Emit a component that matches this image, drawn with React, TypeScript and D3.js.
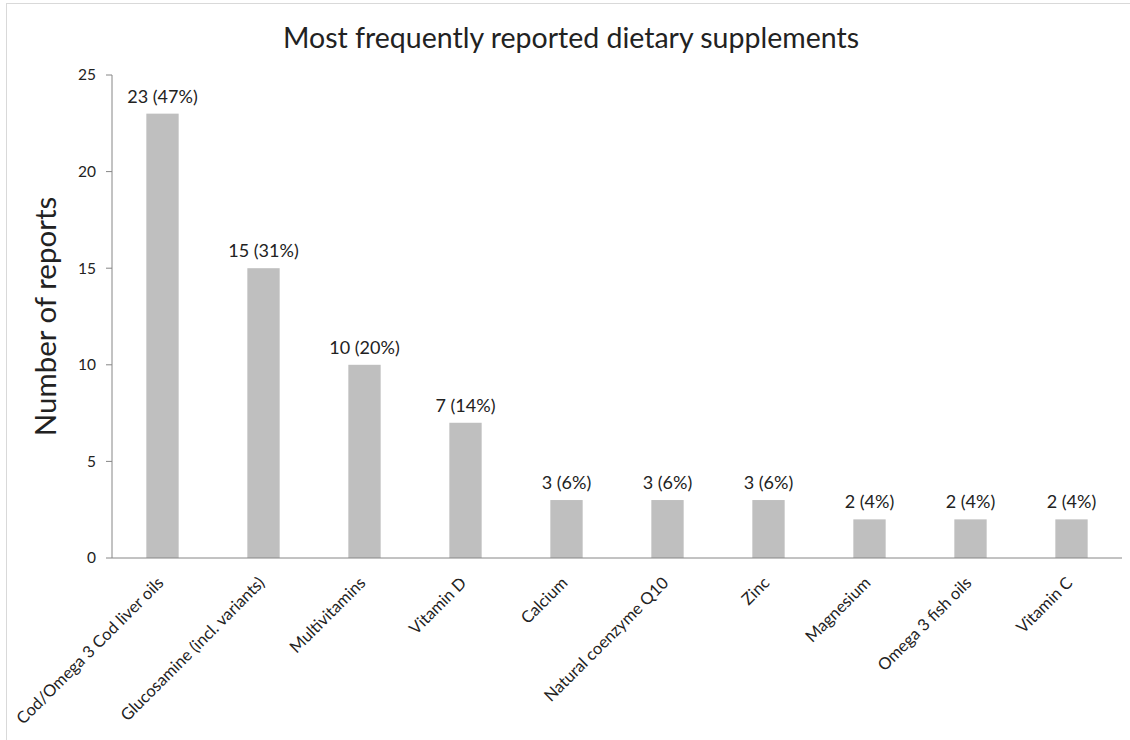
import * as d3 from "d3";
import React from "react";

const categories = [
  "Cod/Omega 3 Cod liver oils",
  "Glucosamine (incl. variants)",
  "Multivitamins",
  "Vitamin D",
  "Calcium",
  "Natural coenzyme Q10",
  "Zinc",
  "Magnesium",
  "Omega 3 fish oils",
  "Vitamin C",
];
const counts = [23, 15, 10, 7, 3, 3, 3, 2, 2, 2];
const percents = [47, 31, 20, 14, 6, 6, 6, 4, 4, 4];
const yTicks = [0, 5, 10, 15, 20, 25];

const W = 1130;
const H = 740;
const margin = { left: 112, right: 8, top: 75, bottom: 182 };
const FONT = "Lato, 'Open Sans', sans-serif";

const App = () => {
  const x = d3
    .scaleBand()
    .domain(categories)
    .range([margin.left, W - margin.right])
    .paddingInner(0.68)
    .paddingOuter(0.34);

  const y = d3
    .scaleLinear()
    .domain([0, 25])
    .range([H - margin.bottom, margin.top]);

  const axisColor = "#868686";
  const textColor = "#222";

  return (
    <svg
      width={W}
      height={H}
      style={{ position: "absolute", left: 0, top: 0, background: "#fff" }}
      fontFamily={FONT}
    >
      {/* frame */}
      <rect x={6.5} y={3.5} width={W} height={H} fill="none" stroke="#d9d9d9" />

      <text x={571} y={48} textAnchor="middle" fontSize={28.5} fill={textColor}>
        Most frequently reported dietary supplements
      </text>

      <text
        transform={`translate(56,${(y(0) + y(25)) / 2}) rotate(-90)`}
        textAnchor="middle"
        fontSize={29.5}
        fill={textColor}
      >
        Number of reports
      </text>

      {/* bars */}
      {categories.map((c, i) => (
        <g key={c}>
          <rect
            x={x(c)}
            y={y(counts[i])}
            width={x.bandwidth()}
            height={y(0) - y(counts[i])}
            fill="#bfbfbf"
          />
          <text
            x={(x(c) ?? 0) + x.bandwidth() / 2}
            y={y(counts[i]) - 11}
            textAnchor="middle"
            fontSize={18}
            fill={textColor}
          >
            {`${counts[i]} (${percents[i]}%)`}
          </text>
        </g>
      ))}

      {/* y axis */}
      <line x1={margin.left} x2={margin.left} y1={y(25)} y2={y(0)} stroke={axisColor} />
      {yTicks.map((t) => (
        <g key={t}>
          <line x1={margin.left - 6} x2={margin.left} y1={y(t)} y2={y(t)} stroke={axisColor} />
          <text
            x={margin.left - 16}
            y={y(t)}
            dy="0.35em"
            textAnchor="end"
            fontSize={15.5}
            fill={textColor}
          >
            {t}
          </text>
        </g>
      ))}

      {/* x axis */}
      <line x1={margin.left} x2={W - margin.right} y1={y(0)} y2={y(0)} stroke={axisColor} />
      {categories.map((c) => {
        const cx = (x(c) ?? 0) + x.bandwidth() / 2 + 2;
        const cy = y(0) + 26;
        return (
          <text
            key={c}
            transform={`translate(${cx},${cy}) rotate(-45)`}
            textAnchor="end"
            fontSize={16.5}
            fill={textColor}
          >
            {c}
          </text>
        );
      })}
    </svg>
  );
};

export default App;
